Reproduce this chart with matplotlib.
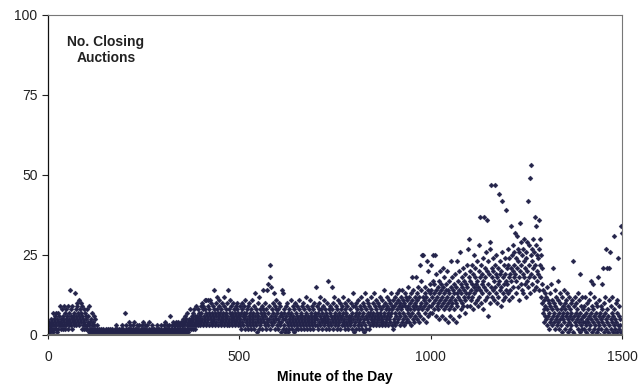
import matplotlib
matplotlib.use("Agg")
import matplotlib.pyplot as plt
import numpy as np

plt.rcParams['font.family'] = ['Liberation Sans', 'DejaVu Sans']

# Number of closing auctions per minute, read segment by segment (100 minutes each)
seg_0000 = [2,1,3,4,2,1,3,2,5,3, 4,2,7,3,1,5,2,6,3,4, 2,7,3,5,1,4,7,2,3,6, 4,3,9,2,5,4,8,3,6,2,
            5,9,3,4,7,2,5,8,3,4, 6,2,4,9,3,5,7,14,4,6, 3,8,5,2,9,4,6,3,7,5, 13,4,8,6,3,10,5,9,4,7,
            11,6,3,8,5,10,4,7,2,6, 9,3,5,8,4,2,7,3,6,2]
seg_0100 = [5,3,8,2,4,6,1,3,9,2, 4,1,5,2,7,3,1,4,2,6, 1,3,0,2,5,1,0,2,1,3, 0,1,0,2,0,1,1,0,2,0,
            1,0,0,1,2,0,1,0,0,1, 0,2,1,0,0,1,0,2,0,1, 1,0,2,1,0,0,1,2,0,1, 0,1,0,0,2,1,0,1,3,0,
            1,2,0,1,0,1,2,0,0,1, 2,0,1,3,1,0,2,1,0,1]
seg_0200 = [1,7,0,2,1,3,0,1,2,0, 1,2,4,0,1,3,1,0,2,1, 0,3,1,2,0,1,4,2,0,1, 2,1,0,3,1,0,2,1,3,0,
            1,0,2,1,0,3,1,2,0,4, 1,2,0,1,3,0,1,2,1,0, 3,1,0,2,1,4,0,1,2,0, 1,0,3,1,2,0,1,0,2,1,
            0,2,1,0,3,1,0,2,1,0, 2,1,0,1,3,0,2,1,0,1]
seg_0300 = [1,0,2,3,1,0,2,4,1,2, 0,3,1,2,0,1,3,2,0,1, 6,2,1,3,0,2,4,1,2,3, 1,2,0,3,1,4,2,1,3,0,
            2,4,1,3,2,0,3,1,4,2, 3,1,5,2,4,1,3,6,2,4, 1,5,3,2,7,4,1,3,5,2, 4,8,3,5,2,6,4,3,7,2,
            5,3,8,4,6,2,5,3,9,4, 6,3,5,8,4,7,3,6,5,9]
seg_0400 = [7,4,10,5,8,3,9,6,4,11, 5,8,3,7,11,6,4,9,11,5, 7,3,8,11,6,4,10,5,7,3, 9,6,4,8,5,14,7,3,10,6,
            4,8,12,5,7,3,9,6,11,4, 7,5,3,8,6,10,4,7,5,12, 3,9,6,4,8,5,7,3,6,10, 4,14,8,5,3,7,11,6,4,9,
            5,7,3,10,6,4,8,5,7,3, 9,6,4,8,5,10,3,7,6,4]
seg_0500 = [6,3,9,5,7,2,8,4,10,6, 3,7,5,9,2,6,11,4,7,3, 8,5,2,9,6,4,10,3,7,5, 2,8,6,4,11,3,7,5,9,2,
            6,13,4,8,3,7,1,5,10,4, 6,2,12,5,8,3,7,4,9,6, 2,5,8,14,4,7,3,10,6,2, 8,5,14,4,7,3,16,9,5,2,
            18,22,6,15,4,8,3,10,5,7, 13,4,9,6,2,8,5,11,3,7]
seg_0600 = [5,2,8,4,10,6,3,9,1,7, 4,14,6,2,13,5,8,3,7,1, 5,9,2,6,4,10,3,7,1,5, 8,2,6,4,11,3,7,5,2,9,
            4,6,1,8,3,5,10,2,7,4, 6,3,9,5,2,8,4,11,6,3, 7,5,2,9,4,6,3,10,5,8, 2,6,4,12,3,7,5,9,2,6,
            4,8,3,5,11,2,7,4,6,9, 3,5,8,2,6,4,10,3,7,5]
seg_0700 = [15,6,3,9,5,7,2,8,4,10, 6,3,12,5,8,4,7,2,9,5, 3,11,6,4,8,5,2,7,10,4, 6,3,17,5,8,2,7,4,9,6,
            3,15,5,8,4,10,2,6,12,3, 7,5,9,4,6,2,8,11,5,3, 7,4,10,6,2,8,5,3,9,6, 4,12,7,3,5,8,2,10,6,4,
            7,3,9,5,11,2,6,4,8,5, 3,10,6,4,7,2,9,5,13,3]
seg_0800 = [1,6,9,4,7,2,10,5,8,3, 6,11,2,7,4,9,5,12,3,8, 2,6,10,4,7,1,9,5,13,3, 8,6,2,11,5,7,4,10,2,6,
            9,3,7,12,5,8,4,6,10,3, 7,5,13,4,9,6,3,8,11,5, 7,4,10,6,3,9,5,12,7,4, 8,6,3,11,5,9,4,7,14,6,
            3,10,5,8,4,12,6,9,3,7, 11,5,8,4,10,6,13,7,3,9]
seg_0900 = [8,2,11,5,9,4,12,7,3,10, 6,13,8,4,11,5,9,14,7,3, 10,6,12,8,4,14,9,5,11,7, 3,10,13,6,9,4,12,8,5,11,
            7,15,9,4,12,6,10,8,3,13, 18,7,11,5,9,14,8,4,12,10, 6,18,9,13,5,11,7,15,8,4, 12,22,9,6,14,10,17,25,8,12,
            5,25,11,9,15,7,13,10,4,12, 23,8,14,6,20,11,9,16,7,13]
seg_1000 = [14,9,22,7,12,17,10,25,13,8, 16,11,25,6,14,19,9,12,15,10, 8,17,13,5,11,20,14,9,16,12, 6,21,10,15,8,13,18,11,5,14,
            9,16,20,12,4,10,14,17,8,13, 11,6,23,15,9,12,18,10,5,14, 16,8,13,19,11,4,15,10,23,13, 9,17,12,6,20,14,26,11,16,8,
            13,18,10,15,21,9,12,17,14,7, 19,11,16,13,22,9,15,27,12,18]
seg_1100 = [13,30,17,9,20,14,11,22,16,12, 19,8,15,25,13,18,10,21,14,16, 11,23,17,9,15,20,28,12,18,37, 14,22,10,16,19,13,24,8,17,37,
            15,21,11,18,14,26,12,36,20,6, 16,23,13,19,29,10,27,47,15,21, 12,18,24,14,20,11,17,22,47,15, 19,13,25,10,18,16,21,12,44,17,
            23,14,19,9,20,15,42,26,13,18, 11,22,16,24,12,19,14,39,17,21]
seg_1200 = [16,22,13,27,18,11,24,19,14,21, 34,17,25,12,20,28,15,22,18,26, 32,19,13,24,17,31,21,27,15,23, 18,26,11,35,20,16,29,22,14,25,
            19,27,13,23,18,30,16,21,26,12, 24,17,29,20,15,42,22,28,18,13, 49,25,53,19,27,16,23,30,21,14, 26,18,37,22,34,15,28,20,25,17,
            24,19,36,27,14,22,30,18,25,12, 21,16,10,7,14,4,11,8,13,6]
seg_1300 = [9,5,12,3,15,8,6,11,2,10, 7,4,13,9,16,5,8,3,11,6, 21,10,4,7,14,2,9,5,12,8, 3,6,11,4,17,7,2,10,5,13,
            8,3,6,12,1,9,5,7,14,4, 10,2,8,6,11,3,7,13,5,1, 9,4,12,6,2,8,10,3,7,5, 11,1,23,0,6,9,4,12,0,7,
            3,10,5,8,2,13,6,4,11,1, 19,7,3,9,5,12,2,8,6,4]
seg_1400 = [6,2,9,4,12,1,7,3,10,5, 8,0,4,11,6,2,13,3,7,17, 5,1,9,16,4,8,2,12,6,0, 3,10,5,7,1,9,4,18,2,6,
            11,3,7,0,5,9,2,8,16,4, 21,6,1,10,3,7,12,5,27,2, 8,4,21,1,6,11,21,3,0,26, 5,9,2,7,4,12,1,6,3,31,
            8,2,5,0,10,4,7,1,11,3, 24,6,2,9,0,5,3,1,34,32]

x_ticks = [0, 500, 1000, 1500]
y_ticks = [0, 25, 50, 75, 100]
x_label = "Minute of the Day"
series_label = "No. Closing\nAuctions"

counts = (seg_0000 + seg_0100 + seg_0200 + seg_0300 + seg_0400 + seg_0500 + seg_0600 +
          seg_0700 + seg_0800 + seg_0900 + seg_1000 + seg_1100 + seg_1200 + seg_1300 + seg_1400)
minutes = np.arange(len(counts))

fig = plt.figure(figsize=(6.39, 3.89), dpi=100)
ax = fig.add_axes([48/639, 54/389, 574/639, 320/389])

ax.plot(minutes, counts, linestyle='none', marker='D', markersize=2.6,
        color='#23234a', markeredgewidth=0.2, markeredgecolor='#23234a')

ax.set_xlim(0, 1500)
ax.set_ylim(0, 100)
ax.set_xticks(x_ticks)
ax.set_yticks(y_ticks)
ax.tick_params(axis='both', labelsize=10, colors='#222222', length=4, width=0.8, direction='out')
ax.tick_params(axis='x', pad=8, length=3)
ax.set_xlabel(x_label, fontsize=10, fontweight='bold', labelpad=4)

for side in ['top', 'right']:
    ax.spines[side].set_color('#777777')
    ax.spines[side].set_linewidth(0.8)
ax.spines['left'].set_color('#111111')
ax.spines['left'].set_linewidth(0.9)
ax.spines['bottom'].set_color('#666666')
ax.spines['bottom'].set_linewidth(1.5)

ax.text(0.101, 0.89, series_label, transform=ax.transAxes, ha='center', va='center',
        fontsize=10, fontweight='bold', color='#222222', linespacing=1.2)

fig.savefig('out.png', dpi=100)
